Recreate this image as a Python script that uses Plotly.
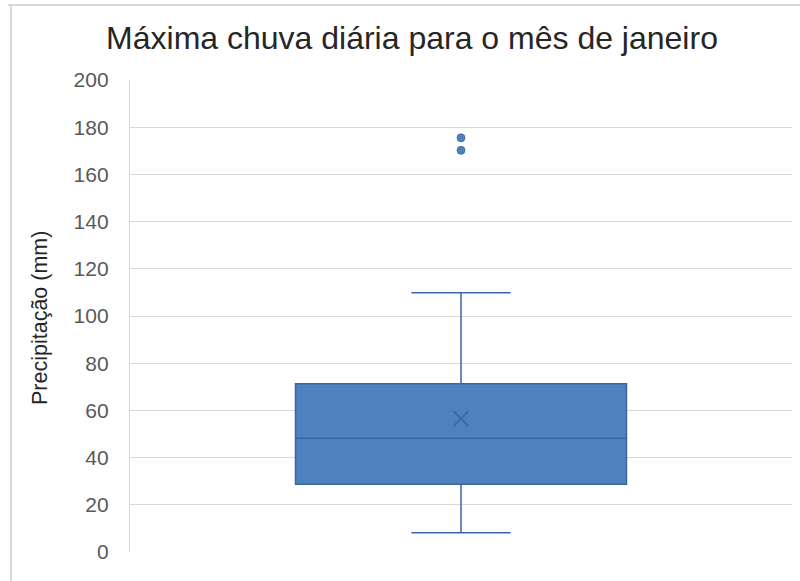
import plotly.graph_objects as go

# ---- data ----
category = ["Janeiro"]
q1 = [28.7]
median = [48.2]
q3 = [71.3]
lower_whisker = [8.2]
upper_whisker = [109.8]
mean_value = [56.5]
outliers = [170.2, 175.5]
y_ticks = [0, 20, 40, 60, 80, 100, 120, 140, 160, 180, 200]

title_text = "Máxima chuva diária para o mês de janeiro"
y_title = "Precipitação (mm)"

fill_color = "#4f81bd"
line_color = "#3a66a3"
grid_color = "#d9d9d9"
font_family = "Liberation Sans, Arial, sans-serif"

fig = go.Figure()

fig.add_trace(go.Box(
    x=category,
    q1=q1, median=median, q3=q3,
    lowerfence=lower_whisker, upperfence=upper_whisker,
    fillcolor=fill_color,
    line=dict(color=line_color, width=1.5),
    width=0.5,
    whiskerwidth=0.3,
    boxpoints=False,
    showlegend=False,
    hoverinfo="skip",
))

fig.add_trace(go.Scatter(
    x=category * len(mean_value), y=mean_value, mode="markers",
    marker=dict(symbol="x-thin", size=15, line=dict(color=line_color, width=1.6)),
    showlegend=False, hoverinfo="skip",
))

fig.add_trace(go.Scatter(
    x=category * len(outliers), y=outliers, mode="markers",
    marker=dict(symbol="circle", size=8, color=fill_color, line=dict(color=line_color, width=0.8)),
    showlegend=False, hoverinfo="skip",
))

W, H = 800, 581
ml, mr, mt, mb = 130, 8, 80, 29
pw = W - ml - mr
ph = H - mt - mb

def px_to_paper_x(px):
    return (px - ml) / pw

def px_to_paper_y(py):
    return (H - mb - py) / ph

fig.update_layout(
    width=W, height=H,
    margin=dict(l=ml, r=mr, t=mt, b=mb),
    paper_bgcolor="white", plot_bgcolor="white",
    font=dict(family=font_family),
    title=dict(
        text=title_text,
        font=dict(family=font_family, size=32, color="#262626"),
        x=412 / W, xanchor="center", xref="container",
        y=1 - 38 / H, yanchor="middle", yref="container",
    ),
    xaxis=dict(
        type="category", range=[-0.5, 0.5],
        showticklabels=False, showgrid=False, zeroline=False,
        showline=False, ticks="",
    ),
    yaxis=dict(
        range=[0, 200], tickvals=y_ticks,
        showgrid=True, gridcolor=grid_color, gridwidth=1.4,
        zeroline=False, showline=True, linecolor=grid_color, linewidth=1.4,
        ticks="", ticklabelstandoff=16,
        tickfont=dict(family=font_family, size=21, color="#595959"),
    ),
    shapes=[
        dict(type="line", xref="paper", yref="paper",
             x0=px_to_paper_x(11), x1=px_to_paper_x(11),
             y0=px_to_paper_y(5), y1=px_to_paper_y(600),
             line=dict(color=grid_color, width=2)),
        dict(type="line", xref="paper", yref="paper",
             x0=px_to_paper_x(8), x1=px_to_paper_x(820),
             y0=px_to_paper_y(5), y1=px_to_paper_y(5),
             line=dict(color=grid_color, width=2)),
    ],
    annotations=[
        dict(text=y_title, textangle=-90, showarrow=False,
             xref="paper", yref="paper",
             x=px_to_paper_x(40), y=px_to_paper_y(318),
             xanchor="center", yanchor="middle",
             font=dict(family=font_family, size=21.5, color="#262626")),
    ],
)

fig.write_html("out.html")
